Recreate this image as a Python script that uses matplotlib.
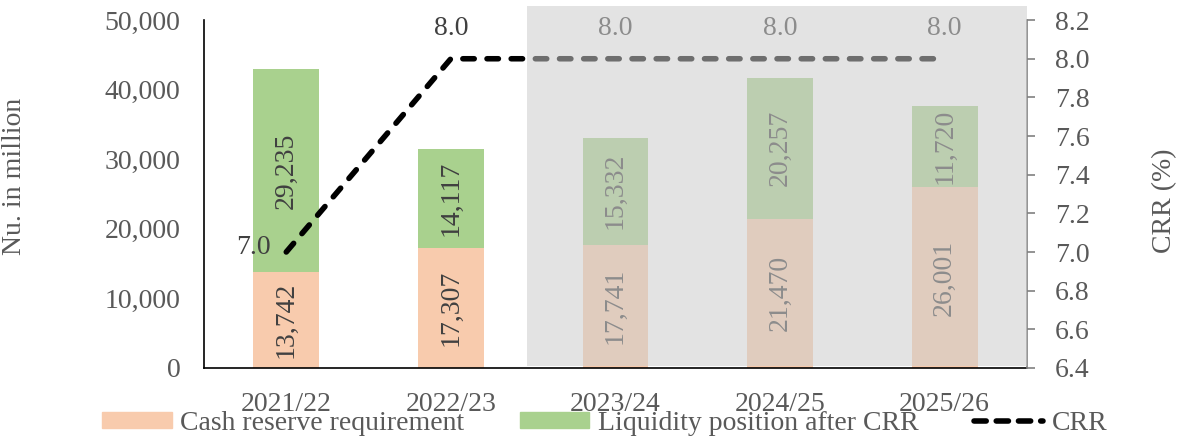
import matplotlib
matplotlib.use("Agg")
import matplotlib.pyplot as plt
from matplotlib.patches import Rectangle
from matplotlib.lines import Line2D
from matplotlib.patches import Patch

plt.rcParams['font.family'] = ['Liberation Serif', 'DejaVu Serif']

# Fiscal years and reserve figures (Nu. in million)
years = ["2021/22", "2022/23", "2023/24", "2024/25", "2025/26"]
crr_amount = [13742, 17307, 17741, 21470, 26001]
liquidity_after = [29235, 14117, 15332, 20257, 11720]
crr_rate = [7.0, 8.0, 8.0, 8.0, 8.0]

peach = "#F8CBAD"
green = "#A9D18E"
label_col = "#404040"
tick_col = "#595959"
fs = 20

fig = plt.figure(figsize=(11.79, 4.37), dpi=100)
ax = fig.add_axes([0.173, 0.158, 0.698, 0.796])
x = list(range(len(years)))
width = 0.4

ax.bar(x, crr_amount, width, color=peach, zorder=2)
ax.bar(x, liquidity_after, width, bottom=crr_amount, color=green, zorder=2)

for i in x:
    ax.text(i, crr_amount[i] / 2, f"{crr_amount[i]:,}", rotation=90,
            ha='center', va='center', color=label_col, fontsize=fs, zorder=3)
    ax.text(i, crr_amount[i] + liquidity_after[i] / 2, f"{liquidity_after[i]:,}",
            rotation=90, ha='center', va='center', color=label_col, fontsize=fs, zorder=3)

ax.set_xlim(-0.5, 4.5)
ax.set_ylim(0, 50000)
ax.set_yticks(range(0, 50001, 10000))
ax.yaxis.set_major_formatter(matplotlib.ticker.FuncFormatter(lambda v, p: f"{int(v):,}"))
ax.set_xticks(x)
ax.set_xticklabels(years)
ax.tick_params(axis='y', length=0, pad=17, labelsize=fs, labelcolor=tick_col)
ax.tick_params(axis='x', length=0, pad=17, labelsize=fs, labelcolor=tick_col)
for s in ['top', 'right']:
    ax.spines[s].set_visible(False)
ax.spines['left'].set_color('black')
ax.spines['bottom'].set_color('black')
ax.spines['left'].set_linewidth(1.2)
ax.spines['bottom'].set_linewidth(1.2)
ax.set_ylabel("Nu. in million", fontsize=fs, color=tick_col)
ax.yaxis.set_label_coords(-0.215, 0.55)

ax2 = ax.twinx()
ax2.set_ylim(6.4, 8.2)
ax2.set_yticks([6.4, 6.6, 6.8, 7.0, 7.2, 7.4, 7.6, 7.8, 8.0, 8.2])
ax2.yaxis.set_major_formatter(matplotlib.ticker.FormatStrFormatter("%.1f"))
ax2.tick_params(axis='y', length=6, width=1.2, color='#808080', pad=14,
                labelsize=fs, labelcolor=tick_col, direction='out')
for s in ['top', 'left', 'bottom']:
    ax2.spines[s].set_visible(False)
ax2.spines['right'].set_color('#808080')
ax2.spines['right'].set_linewidth(1.2)
ax2.set_ylabel("CRR (%)", fontsize=fs, color=tick_col)
ax2.yaxis.set_label_coords(1.152, 0.48)

ax2.plot(x, crr_rate, color='black', lw=4, linestyle=(0, (2.05, 2.3)),
         dash_capstyle='round', solid_capstyle='round', zorder=4)

ax2.annotate(f"{crr_rate[0]:.1f}", (x[0], crr_rate[0]), xytext=(-11.5, 3.5),
             textcoords='offset points', ha='right', va='center',
             fontsize=fs, color=label_col, zorder=5)
for i in x[1:]:
    ax2.annotate(f"{crr_rate[i]:.1f}", (i, crr_rate[i]), xytext=(0, 21.5),
                 textcoords='offset points', ha='center', va='center',
                 fontsize=fs, color=label_col, zorder=5)

# projection period overlay
shade = Rectangle((1.46, 0.006), 4.5 - 1.46, 1.035, transform=ax2.get_xaxis_transform(),
                  facecolor=(205 / 255, 205 / 255, 205 / 255), alpha=0.54,
                  edgecolor='none', clip_on=False, zorder=10)
ax2.add_patch(shade)

handles = [Patch(color=peach), Patch(color=green),
           Line2D([0], [0], color='black', lw=4, linestyle=(0, (2.2, 1.8)),
                  dash_capstyle='round')]
fig.legend(handles, ["Cash reserve requirement", "Liquidity position after CRR", "CRR"],
           loc='center', bbox_to_anchor=(0.513, 0.032), ncol=3, frameon=False,
           fontsize=fs, labelcolor=tick_col, handlelength=2.5, handleheight=0.5,
           handletextpad=0.3, columnspacing=2.0, borderpad=0, borderaxespad=0)

fig.savefig("out.png", dpi=100)
